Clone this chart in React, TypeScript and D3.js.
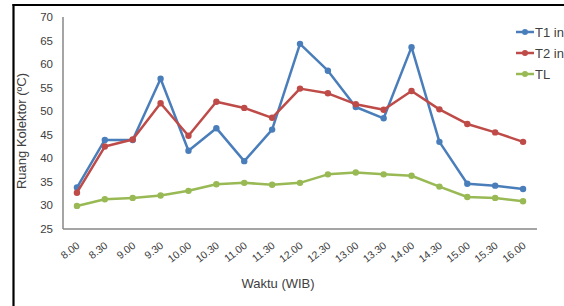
import React from 'react';
import * as d3 from 'd3';

// jam pengukuran
const waktu = ['8.00', '8.30', '9.00', '9.30', '10.00', '10.30', '11.00', '11.30', '12.00', '12.30', '13.00', '13.30', '14.00', '14.30', '15.00', '15.30', '16.00'];
const t1 = [33.8, 43.9, 43.9, 56.9, 41.6, 46.4, 39.4, 46.1, 64.3, 58.6, 50.9, 48.5, 63.6, 43.5, 34.6, 34.2, 33.5];
const t2 = [32.7, 42.5, 44.0, 51.7, 44.8, 52.0, 50.7, 48.6, 54.8, 53.8, 51.5, 50.3, 54.3, 50.4, 47.3, 45.5, 43.5];
const tl = [29.9, 31.3, 31.6, 32.1, 33.1, 34.5, 34.8, 34.4, 34.8, 36.6, 37.0, 36.6, 36.3, 34.0, 31.8, 31.6, 30.9];
const yTicks = [25, 30, 35, 40, 45, 50, 55, 60, 65, 70];

const series = [
  { name: 'T1 in', values: t1, color: '#4a7ebb' },
  { name: 'T2 in', values: t2, color: '#be4b48' },
  { name: 'TL', values: tl, color: '#98b954' },
];

const W = 564;
const H = 306;
const left = 63, right = 537, top = 17, bottom = 229;

export default function App() {
  const x = d3.scaleBand<string>().domain(waktu).range([left, right]);
  const y = d3.scaleLinear().domain([25, 70]).range([bottom, top]);
  const cx = (d: string) => (x(d) ?? 0) + x.bandwidth() / 2;
  const line = d3.line<number>().x((_, i) => cx(waktu[i])).y((v) => y(v));
  const font = 'Liberation Sans, Arial, sans-serif';

  return (
    <svg width={W} height={H} style={{ position: 'absolute', left: 0, top: 0, background: '#fff' }} fontFamily={font}>
      <rect x={0} y={0} width={W} height={H} fill="#fff" />
      {/* bingkai */}
      <line x1={13.5} y1={4} x2={13.5} y2={H} stroke="#000" strokeWidth={2.2} />
      <line x1={12.5} y1={5} x2={W} y2={5} stroke="#000" strokeWidth={2.2} />

      {/* sumbu */}
      <line x1={left} y1={top} x2={left} y2={bottom} stroke="#878787" strokeWidth={1.5} />
      <line x1={left} y1={bottom} x2={right} y2={bottom} stroke="#878787" strokeWidth={1.5} />

      {yTicks.map((t) => (
        <text key={t} x={53} y={y(t)} dy="0.35em" textAnchor="end" fontSize={11.5} fill="#404040">{t}</text>
      ))}
      {waktu.map((w) => (
        <text key={w} transform={`translate(${cx(w) - 1},${bottom + 12}) rotate(-38)`} textAnchor="end" dy="0.7em" fontSize={10.5} fill="#404040">{w}</text>
      ))}

      <text transform={`translate(26,131) rotate(-90)`} textAnchor="middle" fontSize={13} fill="#404040">Ruang Kolektor (ºC)</text>
      <text x={278} y={288} textAnchor="middle" fontSize={13} fill="#404040">Waktu (WIB)</text>

      {series.map((s) => (
        <g key={s.name}>
          <path d={line(s.values) ?? ''} fill="none" stroke={s.color} strokeWidth={2.5} strokeLinejoin="round" />
          {s.values.map((v, i) => (
            <circle key={i} cx={cx(waktu[i])} cy={y(v)} r={3.2} fill={s.color} />
          ))}
        </g>
      ))}

      {/* legenda */}
      {series.map((s, i) => {
        const ly = 32 + i * 21;
        return (
          <g key={s.name}>
            <line x1={516} y1={ly} x2={534} y2={ly} stroke={s.color} strokeWidth={2.5} />
            <circle cx={525} cy={ly} r={3} fill={s.color} />
            <text x={535} y={ly} dy="0.35em" fontSize={13} fill="#404040">{s.name}</text>
          </g>
        );
      })}
    </svg>
  );
}
